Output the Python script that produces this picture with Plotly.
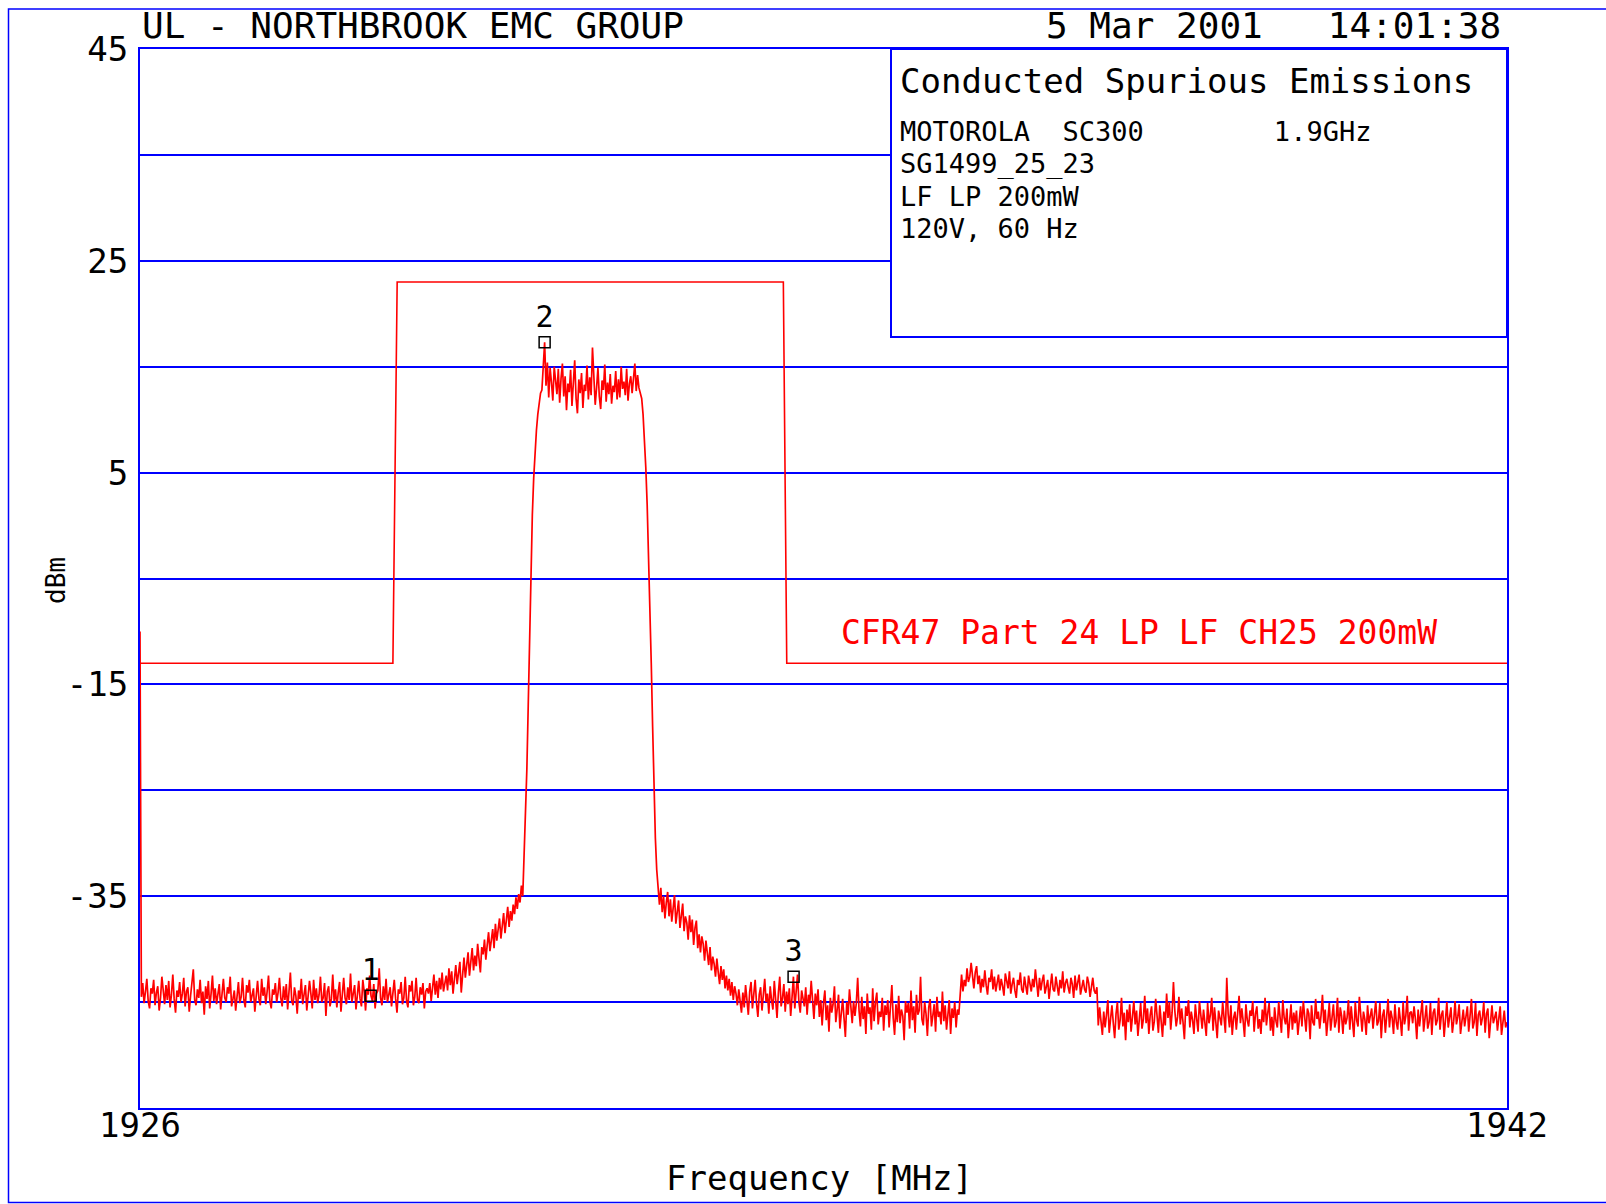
import numpy as np
import plotly.graph_objects as go

# ---------------- data ----------------
START_MHZ = 1926.0
STOP_MHZ = 1942.0

# sweep start artifact
LVL_START = [-10.0]
# noise floor left of the carrier
LVL_FLOOR_LEFT = [
    -44.5, -43.2, -45.1, -44.0, -42.8, -44.9, -45.6, -43.7, -44.2, -42.9,
    -45.3, -44.1, -43.5, -45.8, -44.6, -42.6, -44.0, -45.2, -43.4, -44.8,
    -43.0, -45.5, -44.3, -42.4, -44.7, -46.0, -43.9, -44.5, -43.1, -45.0,
    -44.2, -42.7, -45.4, -44.0, -43.6, -45.9, -44.4, -43.2, -41.9, -44.8,
    -45.3, -43.8, -44.6, -42.9, -45.1, -44.0, -46.2, -43.5, -44.7, -43.0,
    -45.6, -44.2, -42.5, -44.9, -43.7, -45.2, -44.1, -43.3, -45.7, -44.4,
    -42.8, -44.6, -45.0, -43.6, -44.2, -42.6, -45.4, -44.7, -43.9, -45.8,
    -44.0, -43.1, -45.1, -44.5, -42.7, -44.8, -45.5, -43.4, -44.1, -42.9,
    -45.0, -44.3, -43.7, -45.9, -44.2, -43.0, -44.7, -45.3, -42.8, -44.4,
    -43.6, -45.2, -44.0, -42.5, -44.9, -45.6, -43.8, -44.3, -43.2, -45.0,
    -44.1, -42.7, -44.6, -45.4, -43.5, -44.8, -43.3, -45.7, -44.0, -42.2,
    -44.9, -45.3, -43.6, -44.4, -46.1, -43.9, -44.7, -42.8, -45.2, -44.1,
    -43.4, -45.8, -44.5, -43.0, -44.2, -45.6, -42.9, -44.8, -43.7, -45.1,
    -44.3, -42.6, -45.0, -44.6, -43.2, -46.3, -44.0, -43.5, -45.4, -44.7,
    -42.4, -44.9, -43.8, -45.5, -44.1, -43.1, -45.9, -44.4, -42.7, -44.6,
    -45.2, -43.6, -44.8, -42.3, -45.0, -44.2, -43.4, -45.7, -44.5, -43.0,
    -44.7, -45.4, -42.9, -44.0, -45.8, -43.7, -44.3, -42.5, -44.4, -44.9,
    -43.3, -45.6, -44.2, -43.9, -41.8, -44.6, -45.3, -43.5, -44.8, -42.8,
    -45.0, -44.1, -43.6, -45.4, -44.4, -42.9, -44.7, -46.0, -43.8, -44.2,
    -43.1, -45.2, -44.6, -42.6, -44.9, -45.5, -43.4, -44.0, -43.0, -45.3,
    -44.5, -42.7, -44.8, -45.1, -43.6, -44.3, -43.2, -45.6, -44.0, -43.7,
    -44.2,
]
# lower skirt, rising side
LVL_SKIRT_LEFT = [
    -43.2, -44.9, -43.6, -42.4, -44.3, -43.0, -44.6, -42.7, -43.8, -42.2,
    -44.0, -43.1, -42.5, -43.9, -41.8, -43.4, -42.1, -44.2, -42.6, -41.5,
    -43.3, -42.0, -41.2, -44.1, -41.9, -40.8, -42.7, -41.4, -40.3, -42.5,
    -41.1, -39.9, -42.0, -40.6, -41.6, -39.5, -40.9, -42.2, -39.8, -40.5,
    -39.1, -41.0, -39.6, -38.4, -40.2, -39.0, -38.1, -39.9, -37.6, -39.2,
    -38.3, -37.1, -39.0, -37.8, -36.6, -38.5, -37.2, -36.0, -37.9, -36.4,
    -37.3, -35.8, -36.7, -35.1, -36.2, -34.8, -35.6, -34.0, -35.0,
]
LVL_RISE = [-31.0, -27.5, -23.0, -17.0, -10.0, -4.0, 1.0, 4.5, 7.0, 9.0,
            10.5, 11.5, 12.5]
LVL_TOP = [
    12.8, 14.6, 17.3, 13.2, 15.4, 12.1, 14.9, 13.5, 11.8, 15.0,
    13.7, 12.4, 14.8, 11.6, 13.9, 15.3, 12.2, 14.1, 10.9, 13.4,
    12.6, 14.7, 11.3, 13.1, 15.6, 12.0, 10.6, 13.8, 12.5, 14.4,
    11.1, 13.3, 12.7, 15.1, 11.9, 14.0, 12.3, 16.8, 13.6, 11.4,
    13.0, 14.9, 12.2, 11.0, 13.7, 12.8, 15.2, 11.7, 13.5, 12.4,
    14.3, 11.5, 13.2, 12.6, 14.6, 11.9, 13.8, 12.1, 15.0, 12.9,
    13.6, 12.3, 14.8, 11.8, 13.4, 14.1, 12.5, 13.9, 15.3, 12.7,
    14.2, 13.0, 12.4,
]
LVL_FALL = [12.0, 10.5, 8.5, 5.5, 2.0, -2.5, -7.5, -13.0, -19.0, -25.0,
            -29.5, -32.5, -34.5]
# lower skirt, falling side
LVL_SKIRT_RIGHT = [
    -35.8, -34.2, -36.5, -35.0, -37.1, -35.6, -34.6, -36.9, -35.3, -37.4,
    -36.0, -34.9, -37.6, -36.3, -35.4, -38.0, -36.6, -35.7, -38.3, -36.9,
    -37.5, -39.1, -36.8, -38.4, -37.2, -39.6, -38.0, -37.3, -39.9, -38.6,
    -40.3, -38.8, -39.5, -41.1, -39.2, -40.6, -41.5, -39.8, -42.0, -40.7,
    -41.4, -42.6, -40.9, -42.2, -43.3, -41.6, -42.9, -41.9, -43.7, -42.5,
    -43.9, -42.8, -44.4, -43.1, -44.8, -43.5, -44.2,
]
LVL_FLOOR_MID1 = [
    -45.3, -43.8, -44.9, -46.0, -44.1, -45.5, -43.4, -44.7, -46.2, -44.0,
    -43.1, -45.6, -44.4, -42.9, -45.1, -46.4, -44.3, -43.6, -45.8, -44.6,
    -42.8, -45.0, -44.2, -46.1, -43.5, -44.8, -45.7, -43.0, -44.5, -46.5,
    -44.1, -42.6, -45.4, -44.6, -43.3, -45.9, -44.0, -45.2, -43.7, -46.3,
    -44.5, -42.6, -45.6, -44.1, -42.4, -45.0, -46.0, -43.9, -44.8, -45.4,
    -43.6, -46.2, -44.3, -45.1, -43.0, -44.9, -46.6, -44.2, -45.3, -43.8,
]
LVL_FLOOR_MID2 = [
    -46.4, -44.8, -47.2, -45.1, -43.9, -46.7, -45.3, -47.8, -44.6, -46.0,
    -45.2, -43.5, -46.9, -45.7, -44.3, -47.5, -45.9, -44.7, -46.5, -48.3,
    -45.0, -46.2, -43.8, -45.6, -47.0, -44.9, -46.3, -45.1, -42.7, -45.8,
    -47.3, -44.5, -46.6, -45.4, -48.0, -44.2, -46.1, -45.5, -47.6, -43.7,
    -46.8, -45.0, -44.1, -47.1, -45.9, -46.4, -44.6, -47.7, -45.3, -46.2,
    -44.8, -47.4, -45.6, -43.4, -46.5, -48.1, -45.2, -46.9, -44.4, -47.0,
    -45.7, -46.3, -48.6, -44.9, -46.0, -45.1, -47.5, -43.9, -46.7, -45.4,
    -47.9, -44.3, -46.2, -45.8, -42.6, -46.6, -47.2, -45.0, -46.1, -48.2,
    -45.5, -44.7, -47.3, -46.0, -45.2, -47.8, -44.5, -46.4, -45.9, -47.1,
    -44.0, -46.8, -45.3, -47.6, -46.1, -44.8, -48.0, -45.6, -46.5, -45.0,
    -47.4, -45.7, -46.2,
]
LVL_FLOOR_STEP = [
    -43.6, -42.4, -44.0, -42.9, -43.5, -41.8, -43.1, -42.6, -41.3, -42.9,
    -43.7, -42.2, -41.6, -43.3, -42.5, -44.1, -42.8, -43.6, -42.0, -43.4,
    -44.3, -42.7, -43.1, -41.9, -43.8, -42.6, -44.0, -43.2, -42.4, -43.9,
    -42.8, -43.5, -44.4, -42.3, -43.0, -43.7, -42.1, -44.2, -43.3, -42.7,
    -43.9, -44.6, -42.9, -43.4, -42.2, -43.8, -44.1, -42.6, -43.5, -44.3,
    -42.5, -43.2, -44.0, -42.8, -43.6, -41.9, -43.3, -44.5, -42.7, -43.9,
    -43.0, -42.4, -44.2, -43.5, -42.9, -44.7, -43.1, -42.3, -43.8, -44.0,
    -42.6, -43.4, -44.4, -42.9, -43.7, -42.1, -44.1, -43.2, -42.8, -43.6,
    -44.2, -42.7, -43.3, -44.6, -42.5, -43.9, -43.0, -42.4, -44.3, -43.5,
    -42.9, -43.8, -44.1, -42.6, -43.2, -44.5, -43.4, -42.7, -43.9, -44.2,
    -43.6,
]
LVL_FLOOR_RIGHT = [
    -47.2, -45.5, -46.8, -48.1, -45.9, -47.4, -46.2, -44.8, -47.9, -46.5,
    -45.3, -47.0, -48.4, -46.1, -45.0, -47.6, -46.7, -44.6, -47.3, -46.0,
    -48.6, -45.7, -46.9, -45.2, -47.8, -46.4, -44.9, -47.1, -45.8, -48.2,
    -46.3, -45.1, -47.5, -46.6, -44.4, -47.0, -45.6, -48.0, -46.2, -45.4,
    -47.7, -46.8, -44.7, -46.1, -47.9, -45.3, -46.6, -48.3, -45.9, -47.2,
    -44.2, -46.5, -45.0, -47.6, -46.0, -43.1, -45.8, -47.3, -46.4, -44.5,
    -47.1, -45.6, -46.9, -48.5, -45.4, -46.3, -44.8, -47.4, -45.9, -46.7,
    -48.0, -45.2, -46.6, -47.8, -44.9, -46.0, -47.5, -45.7, -46.8, -48.2,
    -45.1, -47.0, -46.2, -44.6, -47.7, -45.5, -46.9, -48.4, -45.8, -46.4,
    -47.2, -45.0, -46.6, -47.9, -42.7, -46.1, -47.4, -45.3, -48.1, -46.5,
    -45.9, -47.6, -46.0, -44.4, -47.0, -45.6, -46.8, -48.3, -45.2, -46.7,
    -47.3, -45.8, -46.3, -44.9, -47.8, -46.1, -45.4, -47.5, -46.6, -48.0,
    -45.7, -46.9, -44.6, -47.2, -46.0, -45.1, -47.7, -46.4, -48.2, -45.5,
    -46.8, -47.4, -45.0, -46.2, -47.9, -44.8, -46.5, -47.1, -45.6, -48.4,
    -46.3, -45.2, -47.6, -46.0, -47.0, -45.8, -48.1, -46.7, -45.4, -47.3,
    -44.9, -46.4, -47.8, -45.6, -46.1, -48.5, -45.3, -46.9, -47.2, -44.7,
    -46.6, -45.9, -47.5, -46.2, -44.3, -47.0, -45.7, -48.2, -46.4, -45.1,
    -47.7, -46.0, -45.2, -47.4, -46.8, -44.6, -47.9, -45.5, -46.3, -48.0,
    -45.8, -47.1, -46.5, -44.8, -47.6, -45.4, -46.9, -48.3, -45.0, -46.7,
    -47.3, -44.5, -46.2, -47.8, -45.9, -46.6, -48.1, -45.3, -47.0, -46.4,
    -45.6, -47.5, -46.0, -44.9, -47.2, -46.8, -45.1, -48.4, -46.3, -45.7,
    -47.9, -46.1, -44.7, -47.4, -45.8, -46.5, -48.0, -45.2, -46.9, -47.6,
    -45.5, -46.7, -48.2, -45.0, -47.1, -46.3, -44.4, -47.7, -46.0, -45.9,
    -47.0, -45.4, -46.6, -48.5, -45.7, -47.3, -46.2, -44.8, -47.8, -46.4,
    -45.3, -47.5, -46.9, -45.1, -48.1, -46.0, -45.6, -47.2, -46.7, -44.6,
    -47.6, -46.2, -45.8, -48.3, -46.5, -45.0, -47.4, -46.1, -45.5, -47.9,
    -46.8, -44.9, -47.1, -46.4, -45.2, -48.0, -46.6, -45.7, -47.3, -46.0,
    -45.4, -47.8, -46.3, -44.7, -47.5, -46.9, -45.1, -48.2, -46.2, -45.8,
    -47.2, -46.5, -45.0, -47.9, -46.1, -45.6, -48.4, -46.8, -45.3, -47.0,
    -46.4, -45.9, -47.7, -46.2, -45.4, -48.1, -46.7, -45.8, -47.4, -46.9,
]

# limit line
LIMIT_FREQ = [1926.0, 1928.96, 1929.01, 1933.53, 1933.57, 1942.0]
LIMIT_DBM = [-13.0, -13.0, 23.0, 23.0, -13.0, -13.0]
LIMIT_LABEL = "CFR47 Part 24 LP LF CH25 200mW"

# markers
MARKER_FREQ = [1928.70, 1930.736, 1933.65]
MARKER_DBM = [-44.4, 17.3, -42.6]
MARKER_TEXT = ["1", "2", "3"]

# axis ticks
Y_GRID = [45, 35, 25, 15, 5, -5, -15, -25, -35, -45, -55]
Y_LABELED = [45, 25, 5, -15, -35]
X_TICKS = [1926, 1942]

HEADER_LEFT = "UL - NORTHBROOK EMC GROUP"
HEADER_RIGHT = "5 Mar 2001   14:01:38"
BOX_TITLE = "Conducted Spurious Emissions"
BOX_LINES = ["MOTOROLA  SC300        1.9GHz", "SG1499_25_23", "LF LP 200mW", "120V, 60 Hz"]
X_TITLE = "Frequency [MHz]"
Y_TITLE = "dBm"

# ---------------- build ----------------
levels = (LVL_START + LVL_FLOOR_LEFT + LVL_SKIRT_LEFT + LVL_RISE + LVL_TOP +
          LVL_FALL + LVL_SKIRT_RIGHT + LVL_FLOOR_MID1 + LVL_FLOOR_MID2 +
          LVL_FLOOR_STEP + LVL_FLOOR_RIGHT)
freqs = np.linspace(START_MHZ, STOP_MHZ, len(levels))

BLUE = "#0000FF"
RED = "#FF0000"
FONT = "DejaVu Sans Mono"

fig = go.Figure()
fig.add_trace(go.Scatter(x=LIMIT_FREQ, y=LIMIT_DBM, mode="lines",
                         line=dict(color=RED, width=1.6), hoverinfo="skip"))
fig.add_trace(go.Scatter(x=freqs, y=levels, mode="lines",
                         line=dict(color=RED, width=1.7), hoverinfo="skip"))
fig.add_trace(go.Scatter(x=MARKER_FREQ, y=MARKER_DBM, mode="markers+text",
                         text=MARKER_TEXT, textposition="top center",
                         textfont=dict(family=FONT, size=30, color="black"),
                         marker=dict(symbol="square-open", size=11,
                                     color="black", line=dict(width=1.5)),
                         cliponaxis=False, hoverinfo="skip"))

W, H = 1606, 1204
L, R, T, B = 140, 99, 49, 96
pw, ph = W - L - R, H - T - B


def px(xp):
    return (xp - L) / pw


def py(yp):
    return (H - B - yp) / ph


shapes = [
    # outer frame
    dict(type="rect", xref="paper", yref="paper", x0=px(8.5), x1=px(1620),
         y0=py(1202.5), y1=py(9), line=dict(color=BLUE, width=1.5), layer="above"),
    # info box
    dict(type="rect", xref="paper", yref="paper", x0=px(891), x1=1,
         y0=py(337), y1=1, line=dict(color=BLUE, width=2),
         fillcolor="white", layer="above"),
]

ann = [
    dict(text=HEADER_LEFT, x=0, y=py(25), xanchor="left", yanchor="middle",
         font=dict(size=36, color="black")),
    dict(text=HEADER_RIGHT, x=px(1503), y=py(25), xanchor="right", yanchor="middle",
         font=dict(size=36, color="black")),
    dict(text=BOX_TITLE, x=px(898), y=py(81), xanchor="left", yanchor="middle",
         font=dict(size=34, color="black")),
    dict(text=X_TITLE, x=px(819), y=py(1178), xanchor="center",
         yanchor="middle", font=dict(size=34, color="black")),
    dict(text=Y_TITLE, x=px(56), y=py(581), xanchor="center", yanchor="middle",
         textangle=-90, font=dict(size=26, color="black")),
    dict(text=LIMIT_LABEL, x=px(839), y=py(632), xanchor="left", yanchor="middle",
         font=dict(size=33, color=RED)),
]
for line_txt, yp in zip(BOX_LINES, [132, 164, 196, 228]):
    ann.append(dict(text=line_txt, x=px(898), y=py(yp), xanchor="left",
                    yanchor="middle", font=dict(size=27, color="black")))
for a in ann:
    a.update(xref="paper", yref="paper", showarrow=False)
    a["font"]["family"] = FONT

fig.update_layout(
    width=W, height=H,
    margin=dict(l=L, r=R, t=T, b=B, pad=0),
    paper_bgcolor="white", plot_bgcolor="white",
    showlegend=False,
    shapes=shapes, annotations=ann,
    font=dict(family=FONT, color="black"),
)
fig.update_xaxes(range=[START_MHZ, STOP_MHZ], tickvals=X_TICKS,
                 ticktext=[str(v) for v in X_TICKS], showgrid=False,
                 zeroline=False, showline=True, mirror=True,
                 linecolor=BLUE, linewidth=2, ticks="",
                 ticklabelstandoff=-14,
                 tickfont=dict(family=FONT, size=34, color="black"),
                 layer="below traces")
fig.update_yaxes(range=[-55, 45], tickvals=Y_GRID,
                 ticktext=[str(v) if v in Y_LABELED else "" for v in Y_GRID],
                 showgrid=True, gridcolor=BLUE, gridwidth=1.6,
                 zeroline=False, showline=True, mirror=True,
                 linecolor=BLUE, linewidth=2, ticks="",
                 ticklabelstandoff=3,
                 tickfont=dict(family=FONT, size=34, color="black"),
                 layer="below traces")

fig.write_html("out.html", config={"displayModeBar": False},
               post_script="document.body.style.margin='0';document.body.style.padding='0';")
